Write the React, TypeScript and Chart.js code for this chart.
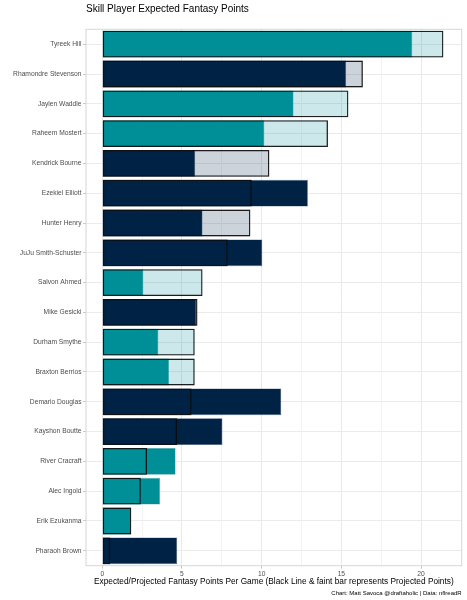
import React, { useEffect, useRef } from "react";
import { Chart, registerables } from "chart.js";

Chart.register(...registerables);

// ---- data ----
const players = [
  "Tyreek Hill",
  "Rhamondre Stevenson",
  "Jaylen Waddle",
  "Raheem Mostert",
  "Kendrick Bourne",
  "Ezekiel Elliott",
  "Hunter Henry",
  "JuJu Smith-Schuster",
  "Salvon Ahmed",
  "Mike Gesicki",
  "Durham Smythe",
  "Braxton Berrios",
  "Demario Douglas",
  "Kayshon Boutte",
  "River Cracraft",
  "Alec Ingold",
  "Erik Ezukanma",
  "Pharaoh Brown",
];
const teams = [
  "MIA", "NE", "MIA", "MIA", "NE", "NE", "NE", "NE", "MIA",
  "NE", "MIA", "MIA", "NE", "NE", "MIA", "MIA", "MIA", "NE",
];
const expectedPts = [
  19.45, 15.3, 12.0, 10.17, 5.83, 12.9, 6.29, 10.04, 2.58,
  5.9, 3.52, 4.19, 11.23, 7.54, 4.6, 3.63, 1.8, 4.7,
];
const projectedPts = [
  21.4, 16.35, 15.44, 14.16, 10.48, 9.38, 9.29, 7.87, 6.29,
  5.97, 5.8, 5.8, 5.6, 4.69, 2.81, 2.42, 1.82, 0.5,
];
const majorTicks = [0, 5, 10, 15, 20];
const minorTicks = [2.5, 7.5, 12.5, 17.5];

const titleText = "Skill Player Expected Fantasy Points";
const xTitleText =
  "Expected/Projected Fantasy Points Per Game (Black Line & faint bar represents Projected Points)";
const captionText = "Chart: Matt Savoca @draftaholic | Data: nflreadR";

// ---- styles ----
const FONT = "'Liberation Sans', Arial, Helvetica, sans-serif";
const teamColor: Record<string, string> = { MIA: "#008e97", NE: "#002244" };
const teamFaint: Record<string, string> = {
  MIA: "rgba(0,142,151,0.2)",
  NE: "rgba(0,34,68,0.2)",
};

const textPlugin = {
  id: "textPlugin",
  beforeDatasetsDraw(chart: any) {
    const { ctx, chartArea } = chart;
    ctx.save();
    ctx.strokeStyle = "#d6d6d6";
    ctx.lineWidth = 1;
    ctx.strokeRect(chartArea.left, chartArea.top, chartArea.right - chartArea.left, chartArea.bottom - chartArea.top);
    ctx.restore();
  },
  afterDraw(chart: any) {
    const { ctx, chartArea } = chart;
    ctx.save();
    ctx.fillStyle = "#000";
    ctx.textBaseline = "alphabetic";
    ctx.font = `10px ${FONT}`;
    ctx.textAlign = "left";
    ctx.fillText(titleText, chartArea.left, 11.5);

    ctx.font = `8.3px ${FONT}`;
    ctx.textAlign = "center";
    ctx.fillText(xTitleText, (chartArea.left + chartArea.right) / 2, 584.3);

    ctx.font = `6px ${FONT}`;
    ctx.textAlign = "right";
    ctx.fillText(captionText, chartArea.right, 595.2);
    ctx.restore();
  },
};

export default function App() {
  const ref = useRef<HTMLCanvasElement | null>(null);

  useEffect(() => {
    document.body.style.margin = "0";
    if (!ref.current) return;
    const bar = { barPercentage: 0.9, categoryPercentage: 1 };
    const chart = new Chart(ref.current, {
      type: "bar",
      data: {
        labels: players,
        datasets: [
          {
            label: "Projected (line)",
            data: projectedPts,
            backgroundColor: "rgba(0,0,0,0)",
            borderColor: "rgba(10,10,10,0.9)",
            borderWidth: 1.3,
            borderSkipped: false,
            order: 0,
            ...bar,
          },
          {
            label: "Expected",
            data: expectedPts,
            backgroundColor: teams.map((t) => teamColor[t]),
            borderColor: teams.map((t) => (t === "NE" ? "rgba(60,85,120,0.9)" : "rgba(60,160,165,0.9)")),
            borderWidth: 0.6,
            borderSkipped: false,
            order: 1,
            ...bar,
          },
          {
            label: "Projected",
            data: projectedPts,
            backgroundColor: teams.map((t) => teamFaint[t]),
            borderWidth: 0,
            order: 2,
            ...bar,
          },
        ],
      },
      options: {
        indexAxis: "y",
        responsive: false,
        animation: false,
        layout: { padding: { top: 29.3, right: 5.3, left: 0, bottom: 0 } },
        plugins: {
          legend: { display: false },
          tooltip: { enabled: false },
          title: { display: false },
        },
        scales: {
          y: {
            stacked: true,
            grid: {
              offset: false,
              color: "#ebebeb",
              lineWidth: 1,
              tickLength: 3,
              tickColor: "#c8c8c8",
            },
            border: { display: false },
            ticks: {
              color: "#4d4d4d",
              font: { family: FONT, size: 6.7 },
              padding: 1.5,
              autoSkip: false,
            },
            afterFit: (s: any) => {
              s.width = 86;
            },
          },
          x: {
            stacked: false,
            min: -1.02,
            max: 22.55,
            afterBuildTicks: (s: any) => {
              s.ticks = [...majorTicks, ...minorTicks]
                .sort((a, b) => a - b)
                .map((v) => ({ value: v }));
            },
            grid: {
              color: (c: any) => (c.tick && c.tick.value % 5 === 0 ? "#e9e9e9" : "#f3f3f3"),
              lineWidth: 1,
              tickLength: 3,
              tickColor: (c: any) =>
                c.tick && c.tick.value % 5 === 0 ? "#c8c8c8" : "rgba(0,0,0,0)",
            },
            border: { display: false },
            ticks: {
              color: "#4d4d4d",
              font: { family: FONT, size: 6.7 },
              padding: 1,
              maxRotation: 0,
              autoSkip: false,
              callback: (v: any) => (Number(v) % 5 === 0 ? String(v) : ""),
            },
            afterFit: (s: any) => {
              s.height = 34.3;
            },
          },
        },
      },
      plugins: [textPlugin],
    } as any);
    return () => chart.destroy();
  }, []);

  return (
    <div style={{ position: "absolute", left: 0, top: 0, width: 467, height: 600, background: "#fff" }}>
      <canvas ref={ref} width={467} height={600} style={{ display: "block" }} />
    </div>
  );
}
